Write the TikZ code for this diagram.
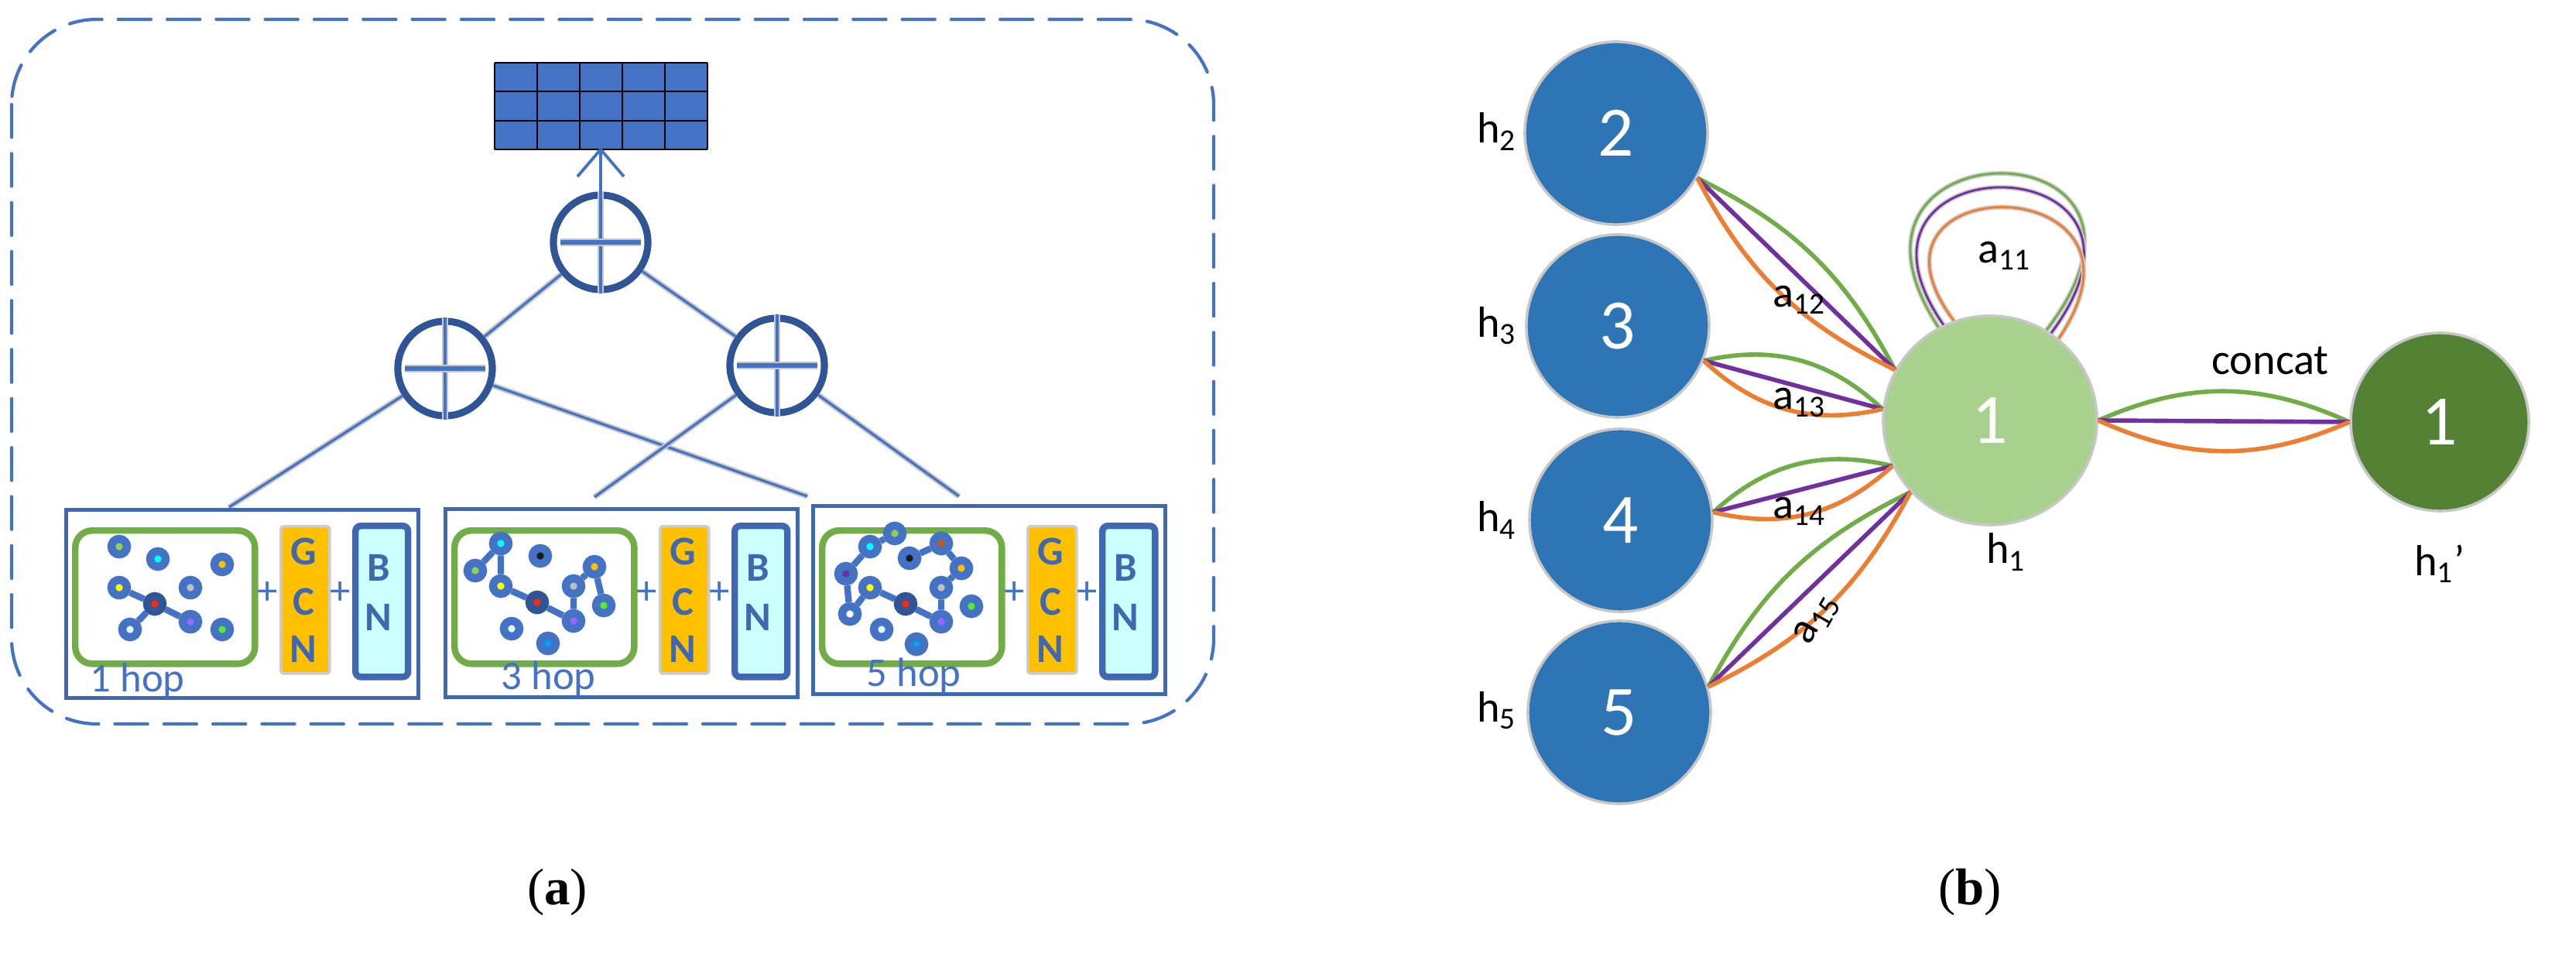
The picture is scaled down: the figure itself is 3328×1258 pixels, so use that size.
\documentclass[tikz,border=0pt]{standalone}
\usepackage{fontspec}
\setmainfont{Carlito}
\newfontfamily\capfont{Liberation Serif}
\usetikzlibrary{backgrounds,shapes.geometric}

\definecolor{blueA}{HTML}{4472C4}
\definecolor{blueD}{HTML}{2F5597}
\definecolor{frameB}{HTML}{4068B0}
\definecolor{greenA}{HTML}{70AD47}
\definecolor{gold}{HTML}{FFC000}
\definecolor{cyanL}{HTML}{CCFFFF}
\definecolor{nodeB}{HTML}{2E75B6}
\definecolor{nodeL}{HTML}{A9D18E}
\definecolor{nodeG}{HTML}{548235}
\definecolor{orangeE}{HTML}{ED7D31}
\definecolor{purpleE}{HTML}{7030A0}
\definecolor{dLgreen}{HTML}{92D050}
\definecolor{dCyan}{HTML}{00FFFF}
\definecolor{dOrange}{HTML}{FFC000}
\definecolor{dYellow}{HTML}{FFFF00}
\definecolor{dGray}{HTML}{BFBFBF}
\definecolor{dRed}{HTML}{FF2A00}
\definecolor{dPurple}{HTML}{9966FF}
\definecolor{dPale}{HTML}{DDFFFF}
\definecolor{dGreen}{HTML}{55EE22}
\definecolor{dBlack}{HTML}{1A1A1A}
\definecolor{dBlue}{HTML}{00A0F0}
\definecolor{dBrown}{HTML}{C55A11}
\definecolor{dViolet}{HTML}{7030A0}

\tikzset{
  link/.style={draw=blueA, line width=0.9pt, preaction={draw=black!22, line width=2.1pt}},
  plus/.style={circle, draw=blueD, line width=2.6pt, minimum size=1.22cm, inner sep=0},
  frame/.style={draw=frameB, line width=1.3pt, rectangle, inner sep=0},
  gbox/.style={draw=greenA, line width=2.4pt, rounded corners=0.22cm, inner sep=0},
  gcn/.style={fill=gold, draw=black!20, line width=1pt, rounded corners=1pt, inner sep=0},
  bn/.style={fill=cyanL, draw=frameB, line width=2.4pt, rounded corners=2pt, inner sep=0},
  lt/.style={font=\fontsize{15}{15}\selectfont\bfseries, text=frameB, inner sep=0},
  pl/.style={text=blueA, font=\fontsize{15}{15}\selectfont, inner sep=0},
  hop/.style={text=blueA, font=\fontsize{15}{15}\selectfont, inner sep=0, anchor=base west},
  gn/.style={circle, draw=blueA, line width=3pt, minimum size=0.2cm, inner sep=0},
  gnc/.style={gn, draw=blueD},
  gl/.style={draw=blueA, line width=2.4pt},
  big/.style={circle, draw=black!22, line width=1pt, minimum size=2.36cm, inner sep=0,
    text=white, font=\fontsize{26}{26}\selectfont},
  hl/.style={font=\fontsize{16}{16}\selectfont, inner sep=0},
  eg/.style={draw=greenA, line width=1.6pt},
  ep/.style={draw=purpleE, line width=1.6pt},
  eo/.style={draw=orangeE, line width=1.6pt},
  loop/.style={line width=0.8pt, preaction={draw=black!20, line width=1.8pt}},
}

\begin{document}
\begin{tikzpicture}[x=0.01cm, y=-0.01cm]
\useasboundingbox (0,0) rectangle (3328,1258);

% ---------- (a) ----------
\draw[blueA, line width=1.2pt, dash pattern=on 12pt off 6pt, line cap=round, rounded corners=1.1cm]
  (15,25) rectangle (1568,935);

% output grid
\fill[blueA] (639,81) rectangle (914,193);
\foreach \i in {0,...,5} \draw[black, line width=0.6pt] (639+\i*55,81) -- (639+\i*55,193);
\foreach \j in {0,...,3} \draw[black, line width=0.6pt] (639,81+\j*37.33) -- (914,81+\j*37.33);
\coordinate (gridb) at (776,193);

% sum nodes
\node[plus] (t) at (776,313) {};
\node[plus] (l) at (575,476) {};
\node[plus] (r) at (1004,472) {};
\foreach \n in {t,l,r} {
  \draw[link] (\n.north) -- (\n.south);
  \draw[blueA, line width=1.5pt, preaction={draw=black!22, line width=3pt}]
    ([xshift=4]\n.west) -- ([xshift=-4]\n.east);
}
\draw[blueA, line width=1.1pt] (t.north) -- (gridb);
\draw[blueA, line width=1.1pt] (gridb) -- ++(-30,35) (gridb) -- ++(30,35);

\draw[link] (t) -- (l);
\draw[link] (t) -- (r);
\coordinate (b1t) at (296,655);
\coordinate (b2t) at (768,642);
\coordinate (b3a) at (1043,641);
\coordinate (b3b) at (1239,641);
\draw[link] (l) -- (b1t);
\draw[link] (l) -- (b3a);
\draw[link] (r) -- (b2t);
\draw[link] (r) -- (b3b);

% hop boxes
\foreach \k/\x/\y in {1/83/656, 2/573/655, 3/1048/651} {
  \node[frame, minimum width=4.55cm, minimum height=2.43cm, anchor=north west] (box\k) at (\x,\y) {};
  \node[gbox, minimum width=2.32cm, minimum height=1.72cm, anchor=north west] (gr\k) at (\x+10,681) {};
  \node[pl] (pa\k) at (\x+263,766) {+};
  \node[gcn, minimum width=0.63cm, minimum height=1.9cm, anchor=north west] (gcn\k) at (\x+278,678) {};
  \node[lt] (gG\k) at (\x+309,712) {G};
  \node[lt] (gC\k) at (\x+309,777) {C};
  \node[lt] (gN\k) at (\x+309,838) {N};
  \node[pl] (pb\k) at (\x+357,766) {+};
  \node[bn, minimum width=0.68cm, minimum height=1.95cm, anchor=north west] (bn\k) at (\x+372,675) {};
  \node[lt] (bB\k) at (\x+406,733) {B};
  \node[lt] (bN\k) at (\x+406,797) {N};
}
\node[hop] (hop1) at (116,893) {1 hop};
\node[hop] (hop2) at (647,890) {3 hop};
\node[hop] (hop3) at (1119,886) {5 hop};

% graph 1
\foreach \n/\x/\y/\c in {a1/154/706/dLgreen, a2/204/722/dCyan, a3/287/729/dOrange,
  a4/154/759/dYellow, a5/246/759/dGray, a7/246/803/dPurple, a8/168/813/dPale, a9/287/813/dGreen}
  \node[gn, fill=\c] (\n) at (\x,\y) {};
\node[gnc, fill=dRed] (a6) at (200,780) {};
\begin{scope}[on background layer]
\draw[gl] (a4) -- (a6) (a6) -- (a7) (a6) -- (a8);
\end{scope}

% graph 2
\foreach \n/\x/\y/\c in {b1/647/702/dCyan, b2/698/718/dBlack, b3/614/737/dLgreen, b4/768/732/dOrange,
  b5/647/757/dYellow, b6/741/757/dGray, b8/780/782/dGreen, b9/741/802/dPurple,
  b10/661/812/dPale, b11/708/831/dBlue}
  \node[gn, fill=\c] (\n) at (\x,\y) {};
\node[gnc, fill=dRed] (b7) at (694,778) {};
\begin{scope}[on background layer]
\draw[gl] (b3) -- (b1) -- (b5) -- (b7) -- (b9) -- (b6) -- (b4) -- (b8);
\end{scope}

% graph 3
\foreach \n/\x/\y/\c in {c1/1156/689/dLgreen, c2/1124/706/dCyan, c3/1216/702/dBrown, c4/1175/721/dBlack,
  c5/1242/734/dOrange, c6/1093/741/dViolet, c7/1124/759/dYellow, c8/1216/759/dGray,
  c10/1255/783/dGreen, c11/1098/793/white, c12/1216/803/dPurple, c13/1139/813/dPale, c14/1184/832/dBlue}
  \node[gn, fill=\c] (\n) at (\x,\y) {};
\node[gnc, fill=dRed] (c9) at (1170,780) {};
\begin{scope}[on background layer]
\draw[gl] (c1) -- (c2) -- (c6) -- (c11) -- (c7) -- (c9) -- (c12) -- (c8) -- (c5) -- (c3) -- (c4);
\end{scope}

\node[font=\capfont\fontsize{19}{19}\selectfont] (capa) at (720,1152) {(\textbf{a})};

% ---------- (b) ----------
\node[big, fill=nodeB] (n2) at (2088,172) {2};
\node[big, fill=nodeB] (n3) at (2090,421) {3};
\node[big, fill=nodeB] (n4) at (2094,672) {4};
\node[big, fill=nodeB] (n5) at (2092,920) {5};
\node[big, fill=nodeL, minimum width=2.76cm, minimum height=2.7cm, ellipse] (n1) at (2571,543) {1};
\node[big, fill=nodeG, minimum size=2.3cm] (n1p) at (3152,545) {1};

\node[hl] (h2) at (1934,170) {h\textsubscript{2}};
\node[hl] (h3) at (1934,421) {h\textsubscript{3}};
\node[hl] (h4) at (1934,672) {h\textsubscript{4}};
\node[hl] (h5) at (1934,918) {h\textsubscript{5}};
\node[hl] (h1) at (2592,713) {h\textsubscript{1}};
\node[hl] (h1p) at (3152,728) {h\textsubscript{1}'};

% self loop
\draw[loop, draw=greenA] (n1.119) .. controls (2330,157) and (2850,157) .. (n1.58);
\draw[loop, draw=purpleE] (n1.116) .. controls (2345,181) and (2835,181) .. (n1.55);
\draw[loop, draw=orangeE] (n1.110) .. controls (2375,215) and (2810,215) .. (n1.50);
\node[hl] (a11) at (2590,330) {a\textsubscript{11}};

% attention edges
\draw[eg] (n2.-29) to[bend left=18] (n1.152);
\draw[ep] (n2.-29) -- (n1.152);
\draw[eo] (n2.-29) to[bend right=18] (n1.152);
\node[hl] (a12) at (2325,387) {a\textsubscript{12}};

\draw[eg] (n3.-22) to[bend left=28] (n1.174);
\draw[ep] (n3.-22) -- (n1.174);
\draw[eo] (n3.-22) to[bend right=28] (n1.174);
\node[hl] (a13) at (2325,520) {a\textsubscript{13}};

\draw[eg] (n4.5) to[bend left=28] (n1.205);
\draw[ep] (n4.5) -- (n1.205);
\draw[eo] (n4.5) to[bend right=28] (n1.205);
\node[hl] (a14) at (2325,660) {a\textsubscript{14}};

\draw[eg] (n5.16) to[bend left=18] (n1.222);
\draw[ep] (n5.16) -- (n1.222);
\draw[eo] (n5.16) to[bend right=18] (n1.222);
\node[hl, rotate=60] (a15) at (2347,800) {a\textsubscript{15}};

\draw[eg] (n1.east) to[bend left=24] (n1p.west);
\draw[ep] (n1.east) -- (n1p.west);
\draw[eo] (n1.east) to[bend right=24] (n1p.west);
\node[hl] (concat) at (2933,466) {concat};

\node[font=\capfont\fontsize{19}{19}\selectfont] (capb) at (2545,1152) {(\textbf{b})};
\end{tikzpicture}
\end{document}
